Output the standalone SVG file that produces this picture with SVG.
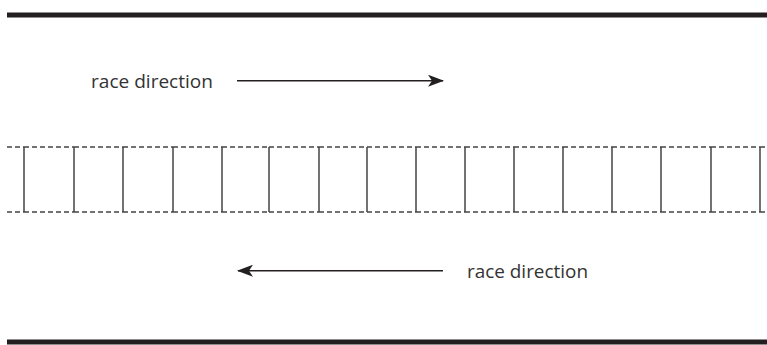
<svg xmlns="http://www.w3.org/2000/svg" width="767" height="345" viewBox="0 0 767 345">
<style>
.edge{stroke:#231f20;stroke-width:5;fill:none}
.dash{stroke:#444;stroke-width:1.3;stroke-dasharray:5,3;fill:none}
.post{stroke:#444;stroke-width:1.5;fill:none}
.arrow{stroke:#231f20;stroke-width:1.4;fill:none}
.lbl{font-family:"Open Sans","Noto Sans","Liberation Sans",sans-serif;font-size:18px;fill:#333}
</style>
<defs>
<marker id="ah" viewBox="0 0 16 12" refX="15" refY="6" markerWidth="16" markerHeight="12" markerUnits="userSpaceOnUse" orient="auto">
<path d="M0,0 L16,6 L0,12 L4,6 Z" fill="#231f20"/>
</marker>
</defs>
<g id="track-edges">
<line class="edge" x1="7" y1="15" x2="767" y2="15"/>
<line class="edge" x1="7" y1="342" x2="767" y2="342"/>
</g>
<g id="lane-dividers">
<path class="dash" d="M7,147H24M24,147H74M74,147H123M123,147H173M173,147H222M222,147H269M269,147H319M319,147H367M367,147H416M416,147H465M465,147H514M514,147H563M563,147H612M612,147H661M661,147H711M711,147H760M760,147H767"/>
<path class="dash" d="M7,212H24M24,212H74M74,212H123M123,212H173M173,212H222M222,212H269M269,212H319M319,212H367M367,212H416M416,212H465M465,212H514M514,212H563M563,212H612M612,212H661M661,212H711M711,212H760M760,212H767"/>
<path class="post" d="M24,147V212M74,147V212M123,147V212M173,147V212M222,147V212M269,147V212M319,147V212M367,147V212M416,147V212M465,147V212M514,147V212M563,147V212M612,147V212M661,147V212M711,147V212M760,147V212"/>
</g>
<g id="label-top">
<text class="lbl" x="91" y="87.5" textLength="122" lengthAdjust="spacingAndGlyphs">race direction</text>
</g>
<g id="label-bottom">
<text class="lbl" x="467" y="277.5" textLength="121" lengthAdjust="spacingAndGlyphs">race direction</text>
</g>
<g id="connectors">
<line class="arrow" x1="237" y1="80.7" x2="443" y2="80.7" marker-end="url(#ah)"/>
<line class="arrow" x1="443" y1="270.7" x2="238" y2="270.7" marker-end="url(#ah)"/>
</g>
</svg>
